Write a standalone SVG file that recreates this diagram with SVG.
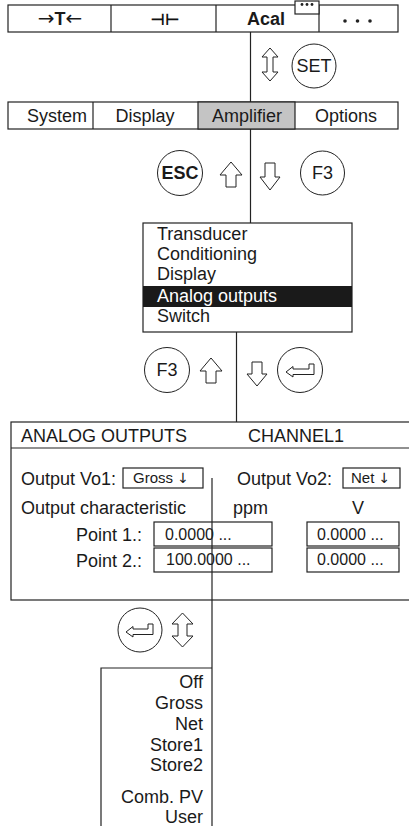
<svg xmlns="http://www.w3.org/2000/svg" width="409" height="826" viewBox="0 0 409 826">
<style>
  text { font-family: "Liberation Sans", Arial, sans-serif; fill: #1a1a1a; }
  .t18 { font-size: 18px; }
  .t16 { font-size: 16px; }
  .t15 { font-size: 15px; }
  .b { font-weight: bold; }
  .mid { text-anchor: middle; }
  .end { text-anchor: end; }
  .dj { font-family: "DejaVu Sans", sans-serif; font-weight: normal; }
  .box { fill: #fff; stroke: #222; stroke-width: 1.2; }
  .ln { fill: none; stroke: #222; stroke-width: 1.2; }
  .btn { fill: #fff; stroke: #222; stroke-width: 1; }
  .arr { fill: #fff; stroke: #222; stroke-width: 1; stroke-linejoin: miter; }
</style>
<rect width="409" height="826" fill="#fff"/>

<g id="connectors">
  <path class="ln" d="M250.5,32 V102"/>
  <path class="ln" d="M250.5,129 V229"/>
  <path class="ln" d="M236.5,332 V422"/>
  <path class="ln" d="M203,478 H212 V826"/>
</g>

<g id="topbar">
  <rect class="box" x="8" y="5" width="390" height="27"/>
  <line class="ln" x1="111" y1="5" x2="111" y2="32"/>
  <line class="ln" x1="216" y1="5" x2="216" y2="32"/>
  <line class="ln" x1="319" y1="5" x2="319" y2="32"/>
  <text class="t18 mid" x="60" y="25"><tspan class="dj" font-size="20">→</tspan><tspan class="b">T</tspan><tspan class="dj" font-size="20">←</tspan></text>
  <text class="mid dj" x="165" y="25" font-size="16" font-weight="bold" style="font-weight:bold;fill:#111">⊣⊢</text>
  <text class="t18 b mid" x="266" y="25">Acal</text>
  <rect class="box" x="295" y="1" width="24" height="13"/>
  <circle cx="302" cy="4.5" r="1.4" fill="#222"/>
  <circle cx="307" cy="4.5" r="1.4" fill="#222"/>
  <circle cx="312" cy="4.5" r="1.4" fill="#222"/>
  <circle cx="345" cy="21" r="1.8" fill="#222"/>
  <circle cx="357.5" cy="21" r="1.8" fill="#222"/>
  <circle cx="370" cy="21" r="1.8" fill="#222"/>
</g>

<g id="set-step">
  <path class="arr" d="M270,48 L278,57 L273,57 L273,72 L278,72 L270,81 L262,72 L267,72 L267,57 L262,57 Z"/>
  <circle class="btn" cx="314" cy="66" r="22"/>
  <text class="t18 mid" x="314" y="72">SET</text>
</g>

<g id="menubar">
  <rect class="box" x="8" y="102" width="390" height="27"/>
  <rect x="198" y="102" width="97" height="27" fill="#c4c4c4" stroke="#222" stroke-width="1.2"/>
  <line class="ln" x1="93" y1="102" x2="93" y2="129"/>
  <text class="t18 mid" x="57" y="122">System</text>
  <text class="t18 mid" x="145" y="122">Display</text>
  <text class="t18 mid" x="247" y="122">Amplifier</text>
  <text class="t18 mid" x="346" y="122">Options</text>
</g>

<g id="esc-f3-step">
  <circle class="btn" cx="180" cy="173" r="22.5"/>
  <text class="t18 b mid" x="180" y="179">ESC</text>
  <path class="arr" d="M231,162 L242,175 L236,175 L236,187 L226,187 L226,175 L220,175 Z"/>
  <path class="arr" d="M265,163 L275,163 L275,177 L280,177 L270,190 L260,177 L265,177 Z"/>
  <circle class="btn" cx="322.5" cy="173" r="22"/>
  <text class="t18 mid" x="322.5" y="179">F3</text>
</g>

<g id="submenu">
  <rect class="box" x="143" y="223" width="209" height="109"/>
  <rect x="143" y="286" width="209" height="21" fill="#1a1a1a"/>
  <text class="t18" x="157" y="240">Transducer</text>
  <text class="t18" x="157" y="260">Conditioning</text>
  <text class="t18" x="157" y="280">Display</text>
  <text class="t18" x="157" y="302" style="fill:#fff">Analog outputs</text>
  <text class="t18" x="157" y="322">Switch</text>
</g>

<g id="f3-enter-step">
  <circle class="btn" cx="167" cy="370" r="22.5"/>
  <text class="t18 mid" x="167" y="376">F3</text>
  <path class="arr" d="M211,358 L222,371 L216,371 L216,383 L206,383 L206,371 L200,371 Z"/>
  <path class="arr" d="M252,362 L262,362 L262,374 L267,374 L257,386 L247,374 L252,374 Z"/>
  <circle class="btn" cx="300" cy="370" r="22.5"/>
  <path class="arr" d="M286,372 L293,366.5 L293,369 L309,369 L309,364 L314,364 L314,374.5 L293,374.5 L293,377 Z"/>
</g>

<g id="dialog">
  <rect class="box" x="11" y="422" width="410" height="178"/>
  <line class="ln" x1="11" y1="448" x2="421" y2="448"/>
  <text class="t18" x="21" y="442">ANALOG OUTPUTS</text>
  <text class="t18" x="248" y="442">CHANNEL1</text>
  <text class="t18" x="21" y="485">Output Vo1:</text>
  <rect class="box" x="123" y="468" width="80" height="20"/>
  <text class="t15" x="133" y="483">Gross <tspan class="dj" font-size="14">↓</tspan></text>
  <text class="t18" x="237" y="485">Output Vo2:</text>
  <rect class="box" x="343" y="468" width="57" height="20"/>
  <text class="t15" x="351" y="483">Net <tspan class="dj" font-size="14">↓</tspan></text>
  <text class="t18" x="21" y="514">Output characteristic</text>
  <text class="t18" x="233" y="514">ppm</text>
  <text class="t18 mid" x="358" y="514">V</text>
  <text class="t18 end" x="142" y="541">Point 1.:</text>
  <text class="t18 end" x="142" y="567">Point 2.:</text>
  <rect class="box" x="154" y="522" width="118" height="24" style="fill:none"/>
  <rect class="box" x="154" y="548" width="118" height="24" style="fill:none"/>
  <rect class="box" x="307" y="522" width="92" height="24"/>
  <rect class="box" x="307" y="548" width="92" height="24"/>
  <text class="t16" x="165" y="540">0.0000 ...</text>
  <text class="t16" x="166" y="565">100.0000 ...</text>
  <text class="t16" x="317" y="540">0.0000 ...</text>
  <text class="t16" x="317" y="565">0.0000 ...</text>
  <line class="ln" x1="212" y1="478" x2="212" y2="600"/>
</g>

<g id="enter-step">
  <circle class="btn" cx="140" cy="630" r="22"/>
  <path class="arr" d="M126,632 L133,626.5 L133,629 L148,629 L148,624 L153,624 L153,634.5 L133,634.5 L133,637 Z"/>
  <path class="arr" d="M182.5,613 L193,624 L187,624 L187,636 L193,636 L182.5,647 L172,636 L178,636 L178,624 L172,624 Z"/>
</g>

<g id="list">
  <path class="ln" d="M101,826 V668 H212"/>
  <text class="t18 end" x="203" y="688">Off</text>
  <text class="t18 end" x="203" y="709">Gross</text>
  <text class="t18 end" x="203" y="730">Net</text>
  <text class="t18 end" x="203" y="751">Store1</text>
  <text class="t18 end" x="203" y="771">Store2</text>
  <text class="t18 end" x="203" y="803">Comb. PV</text>
  <text class="t18 end" x="203" y="823">User</text>
</g>
</svg>
